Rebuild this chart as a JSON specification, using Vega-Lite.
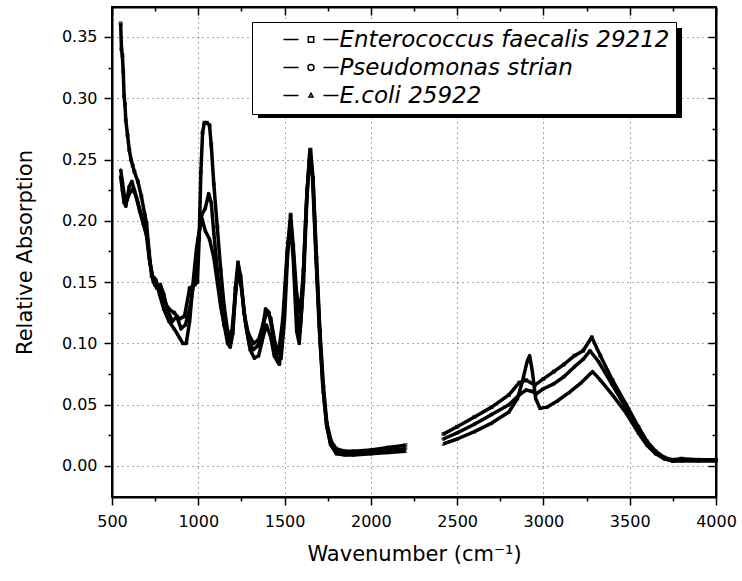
{
  "$schema": "https://vega.github.io/schema/vega-lite/v6.json",
  "width": 604,
  "height": 490,
  "autosize": {"type": "none"},
  "padding": {"left": 112, "top": 7, "right": 26, "bottom": 84},
  "background": "white",
  "config": {
    "font": "DejaVu Sans",
    "view": {"stroke": "black", "strokeWidth": 2}
  },
  "data": {"values": [
    {"s":"Enterococcus faecalis 29212","g":1,"x":550,"y":0.361},
    {"s":"Enterococcus faecalis 29212","g":1,"x":555,"y":0.340},
    {"s":"Enterococcus faecalis 29212","g":1,"x":560,"y":0.335},
    {"s":"Enterococcus faecalis 29212","g":1,"x":565,"y":0.322},
    {"s":"Enterococcus faecalis 29212","g":1,"x":570,"y":0.302},
    {"s":"Enterococcus faecalis 29212","g":1,"x":575,"y":0.295},
    {"s":"Enterococcus faecalis 29212","g":1,"x":580,"y":0.282},
    {"s":"Enterococcus faecalis 29212","g":1,"x":590,"y":0.270},
    {"s":"Enterococcus faecalis 29212","g":1,"x":600,"y":0.258},
    {"s":"Enterococcus faecalis 29212","g":1,"x":610,"y":0.250},
    {"s":"Enterococcus faecalis 29212","g":1,"x":620,"y":0.245},
    {"s":"Enterococcus faecalis 29212","g":1,"x":630,"y":0.240},
    {"s":"Enterococcus faecalis 29212","g":1,"x":650,"y":0.232},
    {"s":"Enterococcus faecalis 29212","g":1,"x":670,"y":0.220},
    {"s":"Enterococcus faecalis 29212","g":1,"x":690,"y":0.205},
    {"s":"Enterococcus faecalis 29212","g":1,"x":700,"y":0.198},
    {"s":"Enterococcus faecalis 29212","g":1,"x":715,"y":0.175},
    {"s":"Enterococcus faecalis 29212","g":1,"x":730,"y":0.155},
    {"s":"Enterococcus faecalis 29212","g":1,"x":750,"y":0.148},
    {"s":"Enterococcus faecalis 29212","g":1,"x":775,"y":0.145},
    {"s":"Enterococcus faecalis 29212","g":1,"x":800,"y":0.135},
    {"s":"Enterococcus faecalis 29212","g":1,"x":830,"y":0.128},
    {"s":"Enterococcus faecalis 29212","g":1,"x":860,"y":0.125},
    {"s":"Enterococcus faecalis 29212","g":1,"x":890,"y":0.120},
    {"s":"Enterococcus faecalis 29212","g":1,"x":920,"y":0.122},
    {"s":"Enterococcus faecalis 29212","g":1,"x":950,"y":0.145},
    {"s":"Enterococcus faecalis 29212","g":1,"x":980,"y":0.148},
    {"s":"Enterococcus faecalis 29212","g":1,"x":995,"y":0.150},
    {"s":"Enterococcus faecalis 29212","g":1,"x":1005,"y":0.185},
    {"s":"Enterococcus faecalis 29212","g":1,"x":1015,"y":0.240},
    {"s":"Enterococcus faecalis 29212","g":1,"x":1025,"y":0.272},
    {"s":"Enterococcus faecalis 29212","g":1,"x":1035,"y":0.280},
    {"s":"Enterococcus faecalis 29212","g":1,"x":1050,"y":0.280},
    {"s":"Enterococcus faecalis 29212","g":1,"x":1065,"y":0.278},
    {"s":"Enterococcus faecalis 29212","g":1,"x":1075,"y":0.262},
    {"s":"Enterococcus faecalis 29212","g":1,"x":1090,"y":0.230},
    {"s":"Enterococcus faecalis 29212","g":1,"x":1110,"y":0.195},
    {"s":"Enterococcus faecalis 29212","g":1,"x":1130,"y":0.160},
    {"s":"Enterococcus faecalis 29212","g":1,"x":1150,"y":0.130},
    {"s":"Enterococcus faecalis 29212","g":1,"x":1170,"y":0.110},
    {"s":"Enterococcus faecalis 29212","g":1,"x":1185,"y":0.102},
    {"s":"Enterococcus faecalis 29212","g":1,"x":1200,"y":0.112},
    {"s":"Enterococcus faecalis 29212","g":1,"x":1215,"y":0.145},
    {"s":"Enterococcus faecalis 29212","g":1,"x":1230,"y":0.166},
    {"s":"Enterococcus faecalis 29212","g":1,"x":1245,"y":0.155},
    {"s":"Enterococcus faecalis 29212","g":1,"x":1265,"y":0.125},
    {"s":"Enterococcus faecalis 29212","g":1,"x":1290,"y":0.108},
    {"s":"Enterococcus faecalis 29212","g":1,"x":1320,"y":0.100},
    {"s":"Enterococcus faecalis 29212","g":1,"x":1350,"y":0.103},
    {"s":"Enterococcus faecalis 29212","g":1,"x":1380,"y":0.118},
    {"s":"Enterococcus faecalis 29212","g":1,"x":1400,"y":0.126},
    {"s":"Enterococcus faecalis 29212","g":1,"x":1420,"y":0.120},
    {"s":"Enterococcus faecalis 29212","g":1,"x":1445,"y":0.100},
    {"s":"Enterococcus faecalis 29212","g":1,"x":1465,"y":0.092},
    {"s":"Enterococcus faecalis 29212","g":1,"x":1490,"y":0.120},
    {"s":"Enterococcus faecalis 29212","g":1,"x":1515,"y":0.175},
    {"s":"Enterococcus faecalis 29212","g":1,"x":1535,"y":0.205},
    {"s":"Enterococcus faecalis 29212","g":1,"x":1550,"y":0.180},
    {"s":"Enterococcus faecalis 29212","g":1,"x":1570,"y":0.140},
    {"s":"Enterococcus faecalis 29212","g":1,"x":1590,"y":0.125},
    {"s":"Enterococcus faecalis 29212","g":1,"x":1610,"y":0.160},
    {"s":"Enterococcus faecalis 29212","g":1,"x":1630,"y":0.225},
    {"s":"Enterococcus faecalis 29212","g":1,"x":1650,"y":0.258},
    {"s":"Enterococcus faecalis 29212","g":1,"x":1665,"y":0.235},
    {"s":"Enterococcus faecalis 29212","g":1,"x":1685,"y":0.170},
    {"s":"Enterococcus faecalis 29212","g":1,"x":1705,"y":0.110},
    {"s":"Enterococcus faecalis 29212","g":1,"x":1725,"y":0.065},
    {"s":"Enterococcus faecalis 29212","g":1,"x":1745,"y":0.035},
    {"s":"Enterococcus faecalis 29212","g":1,"x":1770,"y":0.020},
    {"s":"Enterococcus faecalis 29212","g":1,"x":1800,"y":0.014},
    {"s":"Enterococcus faecalis 29212","g":1,"x":1850,"y":0.012},
    {"s":"Enterococcus faecalis 29212","g":1,"x":1900,"y":0.012},
    {"s":"Enterococcus faecalis 29212","g":1,"x":2000,"y":0.013},
    {"s":"Enterococcus faecalis 29212","g":1,"x":2100,"y":0.015},
    {"s":"Enterococcus faecalis 29212","g":1,"x":2200,"y":0.017},
    {"s":"Enterococcus faecalis 29212","g":2,"x":2420,"y":0.026},
    {"s":"Enterococcus faecalis 29212","g":2,"x":2500,"y":0.032},
    {"s":"Enterococcus faecalis 29212","g":2,"x":2600,"y":0.040},
    {"s":"Enterococcus faecalis 29212","g":2,"x":2700,"y":0.048},
    {"s":"Enterococcus faecalis 29212","g":2,"x":2800,"y":0.058},
    {"s":"Enterococcus faecalis 29212","g":2,"x":2860,"y":0.068},
    {"s":"Enterococcus faecalis 29212","g":2,"x":2900,"y":0.070},
    {"s":"Enterococcus faecalis 29212","g":2,"x":2950,"y":0.066},
    {"s":"Enterococcus faecalis 29212","g":2,"x":3000,"y":0.071},
    {"s":"Enterococcus faecalis 29212","g":2,"x":3060,"y":0.077},
    {"s":"Enterococcus faecalis 29212","g":2,"x":3120,"y":0.083},
    {"s":"Enterococcus faecalis 29212","g":2,"x":3180,"y":0.090},
    {"s":"Enterococcus faecalis 29212","g":2,"x":3230,"y":0.094},
    {"s":"Enterococcus faecalis 29212","g":2,"x":3280,"y":0.105},
    {"s":"Enterococcus faecalis 29212","g":2,"x":3330,"y":0.090},
    {"s":"Enterococcus faecalis 29212","g":2,"x":3400,"y":0.070},
    {"s":"Enterococcus faecalis 29212","g":2,"x":3480,"y":0.050},
    {"s":"Enterococcus faecalis 29212","g":2,"x":3550,"y":0.032},
    {"s":"Enterococcus faecalis 29212","g":2,"x":3600,"y":0.020},
    {"s":"Enterococcus faecalis 29212","g":2,"x":3650,"y":0.012},
    {"s":"Enterococcus faecalis 29212","g":2,"x":3700,"y":0.007},
    {"s":"Enterococcus faecalis 29212","g":2,"x":3750,"y":0.005},
    {"s":"Enterococcus faecalis 29212","g":2,"x":3800,"y":0.006},
    {"s":"Enterococcus faecalis 29212","g":2,"x":3900,"y":0.005},
    {"s":"Enterococcus faecalis 29212","g":2,"x":4000,"y":0.005},

    {"s":"Pseudomonas strian","g":1,"x":550,"y":0.236},
    {"s":"Pseudomonas strian","g":1,"x":560,"y":0.225},
    {"s":"Pseudomonas strian","g":1,"x":570,"y":0.215},
    {"s":"Pseudomonas strian","g":1,"x":580,"y":0.212},
    {"s":"Pseudomonas strian","g":1,"x":590,"y":0.220},
    {"s":"Pseudomonas strian","g":1,"x":600,"y":0.228},
    {"s":"Pseudomonas strian","g":1,"x":615,"y":0.232},
    {"s":"Pseudomonas strian","g":1,"x":630,"y":0.225},
    {"s":"Pseudomonas strian","g":1,"x":650,"y":0.215},
    {"s":"Pseudomonas strian","g":1,"x":670,"y":0.205},
    {"s":"Pseudomonas strian","g":1,"x":690,"y":0.195},
    {"s":"Pseudomonas strian","g":1,"x":705,"y":0.185},
    {"s":"Pseudomonas strian","g":1,"x":720,"y":0.165},
    {"s":"Pseudomonas strian","g":1,"x":740,"y":0.150},
    {"s":"Pseudomonas strian","g":1,"x":760,"y":0.145},
    {"s":"Pseudomonas strian","g":1,"x":780,"y":0.148},
    {"s":"Pseudomonas strian","g":1,"x":800,"y":0.140},
    {"s":"Pseudomonas strian","g":1,"x":820,"y":0.128},
    {"s":"Pseudomonas strian","g":1,"x":850,"y":0.118},
    {"s":"Pseudomonas strian","g":1,"x":875,"y":0.122},
    {"s":"Pseudomonas strian","g":1,"x":900,"y":0.112},
    {"s":"Pseudomonas strian","g":1,"x":925,"y":0.115},
    {"s":"Pseudomonas strian","g":1,"x":950,"y":0.128},
    {"s":"Pseudomonas strian","g":1,"x":975,"y":0.150},
    {"s":"Pseudomonas strian","g":1,"x":1000,"y":0.185},
    {"s":"Pseudomonas strian","g":1,"x":1020,"y":0.205},
    {"s":"Pseudomonas strian","g":1,"x":1040,"y":0.210},
    {"s":"Pseudomonas strian","g":1,"x":1060,"y":0.222},
    {"s":"Pseudomonas strian","g":1,"x":1075,"y":0.215},
    {"s":"Pseudomonas strian","g":1,"x":1090,"y":0.190},
    {"s":"Pseudomonas strian","g":1,"x":1110,"y":0.160},
    {"s":"Pseudomonas strian","g":1,"x":1130,"y":0.135},
    {"s":"Pseudomonas strian","g":1,"x":1150,"y":0.115},
    {"s":"Pseudomonas strian","g":1,"x":1170,"y":0.100},
    {"s":"Pseudomonas strian","g":1,"x":1185,"y":0.097},
    {"s":"Pseudomonas strian","g":1,"x":1200,"y":0.108},
    {"s":"Pseudomonas strian","g":1,"x":1215,"y":0.140},
    {"s":"Pseudomonas strian","g":1,"x":1232,"y":0.163},
    {"s":"Pseudomonas strian","g":1,"x":1248,"y":0.150},
    {"s":"Pseudomonas strian","g":1,"x":1270,"y":0.120},
    {"s":"Pseudomonas strian","g":1,"x":1295,"y":0.100},
    {"s":"Pseudomonas strian","g":1,"x":1320,"y":0.095},
    {"s":"Pseudomonas strian","g":1,"x":1345,"y":0.098},
    {"s":"Pseudomonas strian","g":1,"x":1370,"y":0.110},
    {"s":"Pseudomonas strian","g":1,"x":1390,"y":0.128},
    {"s":"Pseudomonas strian","g":1,"x":1410,"y":0.125},
    {"s":"Pseudomonas strian","g":1,"x":1435,"y":0.105},
    {"s":"Pseudomonas strian","g":1,"x":1455,"y":0.088},
    {"s":"Pseudomonas strian","g":1,"x":1470,"y":0.083},
    {"s":"Pseudomonas strian","g":1,"x":1490,"y":0.110},
    {"s":"Pseudomonas strian","g":1,"x":1515,"y":0.170},
    {"s":"Pseudomonas strian","g":1,"x":1535,"y":0.200},
    {"s":"Pseudomonas strian","g":1,"x":1550,"y":0.175},
    {"s":"Pseudomonas strian","g":1,"x":1570,"y":0.125},
    {"s":"Pseudomonas strian","g":1,"x":1590,"y":0.110},
    {"s":"Pseudomonas strian","g":1,"x":1610,"y":0.150},
    {"s":"Pseudomonas strian","g":1,"x":1630,"y":0.220},
    {"s":"Pseudomonas strian","g":1,"x":1648,"y":0.258},
    {"s":"Pseudomonas strian","g":1,"x":1665,"y":0.232},
    {"s":"Pseudomonas strian","g":1,"x":1685,"y":0.165},
    {"s":"Pseudomonas strian","g":1,"x":1705,"y":0.105},
    {"s":"Pseudomonas strian","g":1,"x":1725,"y":0.060},
    {"s":"Pseudomonas strian","g":1,"x":1745,"y":0.032},
    {"s":"Pseudomonas strian","g":1,"x":1770,"y":0.017},
    {"s":"Pseudomonas strian","g":1,"x":1800,"y":0.011},
    {"s":"Pseudomonas strian","g":1,"x":1850,"y":0.010},
    {"s":"Pseudomonas strian","g":1,"x":1900,"y":0.010},
    {"s":"Pseudomonas strian","g":1,"x":2000,"y":0.011},
    {"s":"Pseudomonas strian","g":1,"x":2100,"y":0.013},
    {"s":"Pseudomonas strian","g":1,"x":2200,"y":0.014},
    {"s":"Pseudomonas strian","g":2,"x":2420,"y":0.022},
    {"s":"Pseudomonas strian","g":2,"x":2500,"y":0.027},
    {"s":"Pseudomonas strian","g":2,"x":2600,"y":0.034},
    {"s":"Pseudomonas strian","g":2,"x":2700,"y":0.042},
    {"s":"Pseudomonas strian","g":2,"x":2800,"y":0.050},
    {"s":"Pseudomonas strian","g":2,"x":2860,"y":0.058},
    {"s":"Pseudomonas strian","g":2,"x":2900,"y":0.062},
    {"s":"Pseudomonas strian","g":2,"x":2930,"y":0.061},
    {"s":"Pseudomonas strian","g":2,"x":2960,"y":0.059},
    {"s":"Pseudomonas strian","g":2,"x":3000,"y":0.063},
    {"s":"Pseudomonas strian","g":2,"x":3060,"y":0.067},
    {"s":"Pseudomonas strian","g":2,"x":3120,"y":0.073},
    {"s":"Pseudomonas strian","g":2,"x":3180,"y":0.081},
    {"s":"Pseudomonas strian","g":2,"x":3230,"y":0.087},
    {"s":"Pseudomonas strian","g":2,"x":3270,"y":0.094},
    {"s":"Pseudomonas strian","g":2,"x":3320,"y":0.085},
    {"s":"Pseudomonas strian","g":2,"x":3400,"y":0.066},
    {"s":"Pseudomonas strian","g":2,"x":3480,"y":0.047},
    {"s":"Pseudomonas strian","g":2,"x":3550,"y":0.030},
    {"s":"Pseudomonas strian","g":2,"x":3600,"y":0.019},
    {"s":"Pseudomonas strian","g":2,"x":3650,"y":0.011},
    {"s":"Pseudomonas strian","g":2,"x":3700,"y":0.006},
    {"s":"Pseudomonas strian","g":2,"x":3750,"y":0.004},
    {"s":"Pseudomonas strian","g":2,"x":3800,"y":0.005},
    {"s":"Pseudomonas strian","g":2,"x":3900,"y":0.005},
    {"s":"Pseudomonas strian","g":2,"x":4000,"y":0.005},

    {"s":"E.coli 25922","g":1,"x":550,"y":0.242},
    {"s":"E.coli 25922","g":1,"x":560,"y":0.232},
    {"s":"E.coli 25922","g":1,"x":570,"y":0.222},
    {"s":"E.coli 25922","g":1,"x":580,"y":0.215},
    {"s":"E.coli 25922","g":1,"x":590,"y":0.218},
    {"s":"E.coli 25922","g":1,"x":600,"y":0.222},
    {"s":"E.coli 25922","g":1,"x":620,"y":0.226},
    {"s":"E.coli 25922","g":1,"x":640,"y":0.220},
    {"s":"E.coli 25922","g":1,"x":660,"y":0.208},
    {"s":"E.coli 25922","g":1,"x":680,"y":0.198},
    {"s":"E.coli 25922","g":1,"x":700,"y":0.188},
    {"s":"E.coli 25922","g":1,"x":715,"y":0.170},
    {"s":"E.coli 25922","g":1,"x":735,"y":0.155},
    {"s":"E.coli 25922","g":1,"x":755,"y":0.152},
    {"s":"E.coli 25922","g":1,"x":775,"y":0.140},
    {"s":"E.coli 25922","g":1,"x":800,"y":0.128},
    {"s":"E.coli 25922","g":1,"x":830,"y":0.118},
    {"s":"E.coli 25922","g":1,"x":860,"y":0.112},
    {"s":"E.coli 25922","g":1,"x":890,"y":0.105},
    {"s":"E.coli 25922","g":1,"x":910,"y":0.100},
    {"s":"E.coli 25922","g":1,"x":930,"y":0.100},
    {"s":"E.coli 25922","g":1,"x":950,"y":0.118},
    {"s":"E.coli 25922","g":1,"x":970,"y":0.150},
    {"s":"E.coli 25922","g":1,"x":990,"y":0.178},
    {"s":"E.coli 25922","g":1,"x":1010,"y":0.195},
    {"s":"E.coli 25922","g":1,"x":1022,"y":0.202},
    {"s":"E.coli 25922","g":1,"x":1040,"y":0.192},
    {"s":"E.coli 25922","g":1,"x":1065,"y":0.185},
    {"s":"E.coli 25922","g":1,"x":1090,"y":0.170},
    {"s":"E.coli 25922","g":1,"x":1110,"y":0.150},
    {"s":"E.coli 25922","g":1,"x":1130,"y":0.130},
    {"s":"E.coli 25922","g":1,"x":1150,"y":0.115},
    {"s":"E.coli 25922","g":1,"x":1175,"y":0.107},
    {"s":"E.coli 25922","g":1,"x":1195,"y":0.110},
    {"s":"E.coli 25922","g":1,"x":1215,"y":0.140},
    {"s":"E.coli 25922","g":1,"x":1232,"y":0.160},
    {"s":"E.coli 25922","g":1,"x":1250,"y":0.145},
    {"s":"E.coli 25922","g":1,"x":1275,"y":0.115},
    {"s":"E.coli 25922","g":1,"x":1300,"y":0.095},
    {"s":"E.coli 25922","g":1,"x":1325,"y":0.088},
    {"s":"E.coli 25922","g":1,"x":1350,"y":0.090},
    {"s":"E.coli 25922","g":1,"x":1375,"y":0.105},
    {"s":"E.coli 25922","g":1,"x":1395,"y":0.115},
    {"s":"E.coli 25922","g":1,"x":1420,"y":0.105},
    {"s":"E.coli 25922","g":1,"x":1440,"y":0.090},
    {"s":"E.coli 25922","g":1,"x":1460,"y":0.085},
    {"s":"E.coli 25922","g":1,"x":1480,"y":0.088},
    {"s":"E.coli 25922","g":1,"x":1500,"y":0.120},
    {"s":"E.coli 25922","g":1,"x":1520,"y":0.180},
    {"s":"E.coli 25922","g":1,"x":1535,"y":0.195},
    {"s":"E.coli 25922","g":1,"x":1550,"y":0.170},
    {"s":"E.coli 25922","g":1,"x":1570,"y":0.110},
    {"s":"E.coli 25922","g":1,"x":1585,"y":0.100},
    {"s":"E.coli 25922","g":1,"x":1600,"y":0.130},
    {"s":"E.coli 25922","g":1,"x":1625,"y":0.210},
    {"s":"E.coli 25922","g":1,"x":1645,"y":0.255},
    {"s":"E.coli 25922","g":1,"x":1662,"y":0.235},
    {"s":"E.coli 25922","g":1,"x":1682,"y":0.170},
    {"s":"E.coli 25922","g":1,"x":1700,"y":0.115},
    {"s":"E.coli 25922","g":1,"x":1720,"y":0.068},
    {"s":"E.coli 25922","g":1,"x":1742,"y":0.035},
    {"s":"E.coli 25922","g":1,"x":1765,"y":0.018},
    {"s":"E.coli 25922","g":1,"x":1800,"y":0.010},
    {"s":"E.coli 25922","g":1,"x":1850,"y":0.009},
    {"s":"E.coli 25922","g":1,"x":1900,"y":0.009},
    {"s":"E.coli 25922","g":1,"x":2000,"y":0.010},
    {"s":"E.coli 25922","g":1,"x":2100,"y":0.011},
    {"s":"E.coli 25922","g":1,"x":2200,"y":0.012},
    {"s":"E.coli 25922","g":2,"x":2420,"y":0.018},
    {"s":"E.coli 25922","g":2,"x":2500,"y":0.022},
    {"s":"E.coli 25922","g":2,"x":2600,"y":0.028},
    {"s":"E.coli 25922","g":2,"x":2700,"y":0.035},
    {"s":"E.coli 25922","g":2,"x":2800,"y":0.044},
    {"s":"E.coli 25922","g":2,"x":2850,"y":0.055},
    {"s":"E.coli 25922","g":2,"x":2880,"y":0.070},
    {"s":"E.coli 25922","g":2,"x":2905,"y":0.085},
    {"s":"E.coli 25922","g":2,"x":2920,"y":0.090},
    {"s":"E.coli 25922","g":2,"x":2935,"y":0.078},
    {"s":"E.coli 25922","g":2,"x":2955,"y":0.055},
    {"s":"E.coli 25922","g":2,"x":2980,"y":0.047},
    {"s":"E.coli 25922","g":2,"x":3020,"y":0.048},
    {"s":"E.coli 25922","g":2,"x":3080,"y":0.053},
    {"s":"E.coli 25922","g":2,"x":3150,"y":0.060},
    {"s":"E.coli 25922","g":2,"x":3220,"y":0.068},
    {"s":"E.coli 25922","g":2,"x":3285,"y":0.077},
    {"s":"E.coli 25922","g":2,"x":3330,"y":0.070},
    {"s":"E.coli 25922","g":2,"x":3400,"y":0.058},
    {"s":"E.coli 25922","g":2,"x":3480,"y":0.043},
    {"s":"E.coli 25922","g":2,"x":3550,"y":0.027},
    {"s":"E.coli 25922","g":2,"x":3600,"y":0.017},
    {"s":"E.coli 25922","g":2,"x":3650,"y":0.010},
    {"s":"E.coli 25922","g":2,"x":3700,"y":0.006},
    {"s":"E.coli 25922","g":2,"x":3750,"y":0.004},
    {"s":"E.coli 25922","g":2,"x":3800,"y":0.004},
    {"s":"E.coli 25922","g":2,"x":3900,"y":0.004},
    {"s":"E.coli 25922","g":2,"x":4000,"y":0.004}
  ]},
  "layer": [
    {
      "mark": {"type": "line", "color": "black", "strokeWidth": 3.5, "strokeJoin": "round"},
      "encoding": {
        "x": {"field": "x", "type": "quantitative",
          "scale": {"domain": [500, 4000], "nice": false, "zero": false},
          "axis": {
            "orient": "bottom",
            "values": [500, 1000, 1500, 2000, 2500, 3000, 3500, 4000],
            "format": "d",
            "labelFont": "DejaVu Sans", "labelFontSize": 16, "labelColor": "black",
            "labelPadding": 8, "labelFlush": false,
            "tickColor": "black", "tickWidth": 1.5, "tickSize": 8,
            "domainColor": "black", "domainWidth": 2,
            "grid": true, "gridColor": "#555555", "gridDash": [1, 4], "gridWidth": 1,
            "title": "Wavenumber (cm⁻¹)",
            "titleFont": "DejaVu Sans", "titleFontSize": 21, "titleFontWeight": "normal", "titleColor": "black",
            "titlePadding": 14
          }
        },
        "y": {"field": "y", "type": "quantitative",
          "scale": {"domain": [-0.0253, 0.3744], "nice": false, "zero": false},
          "axis": {
            "orient": "left",
            "values": [0, 0.05, 0.1, 0.15, 0.2, 0.25, 0.3, 0.35],
            "format": ".2f",
            "labelFont": "DejaVu Sans", "labelFontSize": 16, "labelColor": "black",
            "labelPadding": 7, "labelFlush": false,
            "tickColor": "black", "tickWidth": 1.5, "tickSize": 8,
            "domainColor": "black", "domainWidth": 2,
            "grid": true, "gridColor": "#555555", "gridDash": [1, 4], "gridWidth": 1,
            "title": "Relative Absorption",
            "titleFont": "DejaVu Sans", "titleFontSize": 21, "titleFontWeight": "normal", "titleColor": "black",
            "titlePadding": 26
          }
        },
        "detail": {"field": "g", "type": "nominal"},
        "color": {"field": "s", "type": "nominal", "legend": null,
          "scale": {"domain": ["Enterococcus faecalis 29212", "Pseudomonas strian", "E.coli 25922"], "range": ["black", "black", "black"]}}
      }
    },
    {
      "mark": {"type": "point", "filled": true, "color": "black", "size": 16},
      "encoding": {
        "x": {"field": "x", "type": "quantitative",
          "axis": {
            "orient": "bottom",
            "values": [750, 1250, 1750, 2250, 2750, 3250, 3750],
            "labels": false, "title": null, "grid": false, "domain": false,
            "tickColor": "black", "tickWidth": 1.5, "tickSize": 4
          }
        },
        "y": {"field": "y", "type": "quantitative",
          "axis": {
            "orient": "left",
            "values": [0.025, 0.075, 0.125, 0.175, 0.225, 0.275, 0.325],
            "labels": false, "title": null, "grid": false, "domain": false,
            "tickColor": "black", "tickWidth": 1.5, "tickSize": 4
          }
        },
        "shape": {"field": "s", "type": "nominal", "legend": null,
          "scale": {"domain": ["Enterococcus faecalis 29212", "Pseudomonas strian", "E.coli 25922"], "range": ["square", "circle", "triangle-up"]}}
      }
    },
    {
      "data": {"values": [{}]},
      "mark": {"type": "rect", "color": "black"},
      "encoding": {
        "x": {"datum": 1346, "type": "quantitative",
          "axis": {
            "orient": "top",
            "values": [750, 1250, 1750, 2250, 2750, 3250, 3750],
            "labels": false, "title": null, "grid": false, "domain": false,
            "tickColor": "black", "tickWidth": 1.5, "tickSize": -4
          }
        },
        "x2": {"datum": 3803},
        "y": {"datum": 0.28956, "type": "quantitative",
          "axis": {
            "orient": "right",
            "values": [0.025, 0.075, 0.125, 0.175, 0.225, 0.275, 0.325],
            "labels": false, "title": null, "grid": false, "domain": false,
            "tickColor": "black", "tickWidth": 1.5, "tickSize": -4
          }
        },
        "y2": {"datum": 0.28385}
      }
    },
    {
      "data": {"values": [{}]},
      "mark": {"type": "rect", "color": "black"},
      "encoding": {
        "x": {"datum": 3768, "type": "quantitative", "axis": null},
        "x2": {"datum": 3803},
        "y": {"datum": 0.35727, "type": "quantitative", "axis": null},
        "y2": {"datum": 0.28385}
      }
    },
    {
      "mark": {"type": "point", "filled": false, "color": "black", "strokeWidth": 1.5, "opacity": 0},
      "encoding": {
        "x": {"field": "x", "type": "quantitative",
          "axis": {
            "orient": "top",
            "values": [500, 1000, 1500, 2000, 2500, 3000, 3500, 4000],
            "labels": false, "title": null, "grid": false,
            "tickColor": "black", "tickWidth": 1.5, "tickSize": -8,
            "domainColor": "black", "domainWidth": 2
          }
        },
        "y": {"field": "y", "type": "quantitative",
          "axis": {
            "orient": "right",
            "values": [0, 0.05, 0.1, 0.15, 0.2, 0.25, 0.3, 0.35],
            "labels": false, "title": null, "grid": false,
            "tickColor": "black", "tickWidth": 1.5, "tickSize": -8,
            "domainColor": "black", "domainWidth": 2
          }
        },
        "shape": {"field": "s", "type": "nominal",
          "scale": {"domain": ["Enterococcus faecalis 29212", "Pseudomonas strian", "E.coli 25922"],
            "range": [
              "M-2.75,0H-1.25M1.25,0H2.75M-0.27,-0.27H0.27V0.27H-0.27Z",
              "M-2.75,0H-1.25M1.25,0H2.75M-0.3,0A0.3,0.3 0 1,0 0.3,0A0.3,0.3 0 1,0 -0.3,0Z",
              "M-2.75,0H-1.25M1.25,0H2.75M0,-0.22L0.2,0.14H-0.2Z"
            ]},
          "legend": {
            "orient": "none", "legendX": 140, "legendY": 15,
            "title": null,
            "fillColor": "white", "strokeColor": "black",
            "padding": 6, "rowPadding": 4,
            "symbolSize": 400, "symbolOpacity": 1,
            "symbolFillColor": "black", "symbolStrokeColor": "black", "symbolStrokeWidth": 1.5,
            "symbolOffset": 41.5, "labelOffset": 17,
            "labelFont": "DejaVu Sans", "labelFontSize": 23, "labelFontStyle": "italic",
            "labelColor": "black", "labelLimit": 500
          }
        }
      }
    }
  ],
  "resolve": {
    "axis": {"x": "independent", "y": "independent"},
    "scale": {"shape": "independent"}
  }
}
